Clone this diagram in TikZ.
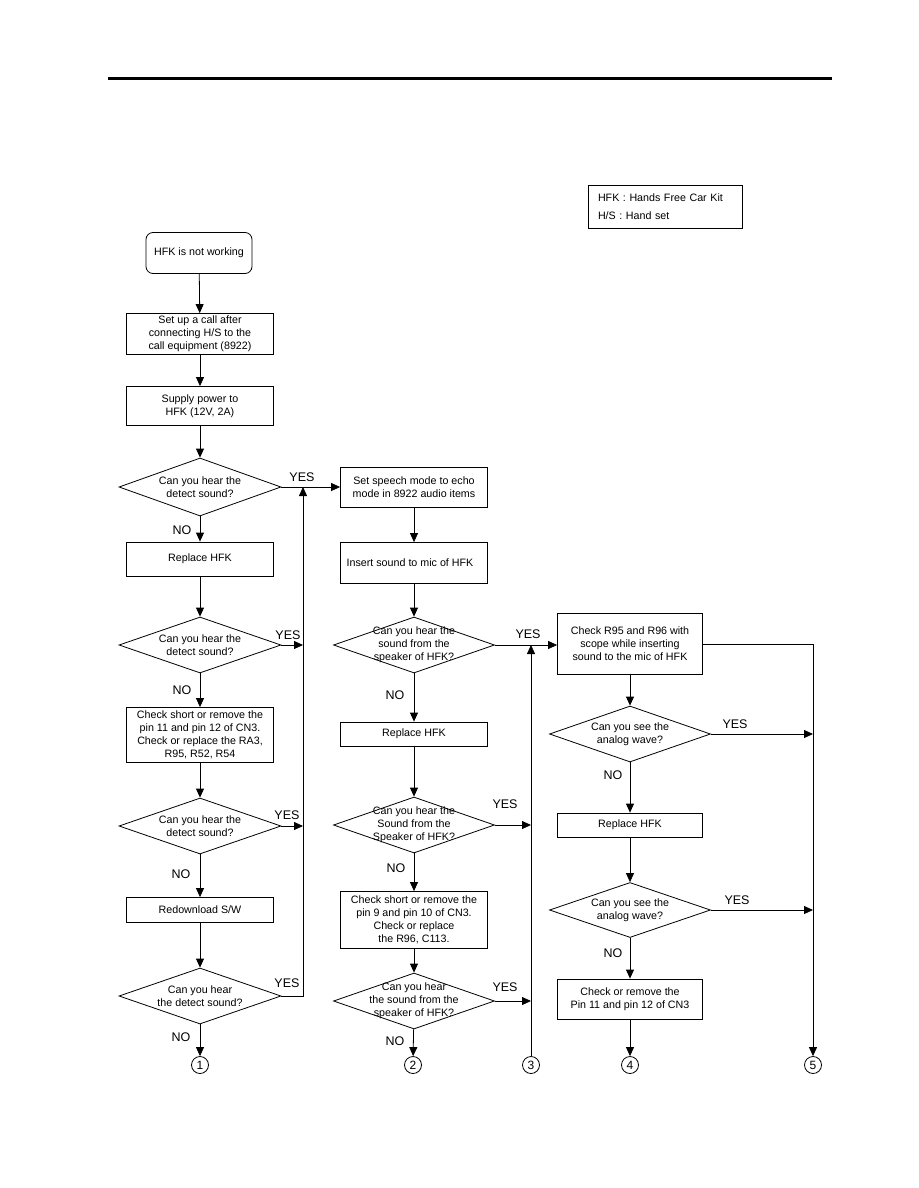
\documentclass[tikz,border=0pt]{standalone}
\usepackage{fontspec}
\setmainfont{Liberation Sans}
\usetikzlibrary{shapes.geometric,arrows.meta}
\begin{document}
\begin{tikzpicture}[x=1pt,y=-1pt,
  txt/.style={font=\fontsize{10.7}{13}\selectfont, align=center, inner sep=0pt},
  box/.style={draw, line width=0.8pt, minimum width=147pt, inner sep=2pt, align=center,
              font=\fontsize{10.7}{13}\selectfont},
  dia/.style={draw, diamond, line width=0.8pt, inner sep=0pt, minimum width=162pt, minimum height=56pt},
  lbl/.style={font=\fontsize{12.5}{14}\selectfont, inner sep=0pt},
  circ/.style={draw, circle, line width=0.8pt, minimum size=17pt, inner sep=0pt,
               font=\fontsize{12}{14}\selectfont},
  arr/.style={line width=0.8pt, -{Triangle[length=9pt,width=8pt]}},
  ln/.style={line width=0.8pt}
]
\useasboundingbox (0,0) rectangle (918,1188);
\draw[line width=3pt] (108,79) -- (832,79);

% legend
\node[draw, line width=0.8pt, text width=134pt, inner xsep=10pt, minimum height=43pt,
      align=left, font=\fontsize{10.7}{18}\selectfont] (legend) at (665,206.5)
      {HFK : Hands Free Car Kit\\H/S : Hand set};

% column 1
\node[box, rounded corners=7pt, minimum width=106pt, minimum height=41pt] (start) at (199,253) {HFK is not working};
\node[box, minimum height=41pt] (b2) at (200,334) {Set up a call after\\connecting H/S to the\\call equipment (8922)};
\node[box, minimum height=39pt] (b3) at (200,406) {Supply power to\\HFK (12V, 2A)};
\node[dia, minimum height=58pt] (d1) at (200,487) {};
\node[txt] (d1t) at (d1.center) {Can you hear the\\detect sound?};
\node[box, minimum height=34pt] (r1) at (200,559) {Replace HFK};
\node[dia] (d2) at (200,645) {};
\node[txt] (d2t) at (d2.center) {Can you hear the\\detect sound?};
\node[box, minimum height=55pt] (c1) at (200,735) {Check short or remove the\\pin 11 and pin 12 of CN3.\\Check or replace the RA3,\\R95, R52, R54};
\node[dia] (d3) at (200,826) {};
\node[txt] (d3t) at (d3.center) {Can you hear the\\detect sound?};
\node[box, minimum height=25pt] (rd) at (200,910) {Redownload S/W};
\node[dia] (d4) at (200,996) {};
\node[txt] (d4t) at (d4.center) {Can you hear\\the detect sound?};
\node[circ] (n1) at (200,1065) {1};

\coordinate (v1top) at (303,487);
\coordinate (v1bot) at (303,996);
\coordinate (v1a) at (303,645);
\coordinate (v1b) at (303,826);

\draw[arr] (start) -- (b2);
\draw[arr] (b2) -- (b3);
\draw[arr] (b3) -- (d1);
\draw[arr] (d1) -- (r1);
\draw[arr] (r1) -- (d2);
\draw[arr] (d2) -- (c1);
\draw[arr] (c1) -- (d3);
\draw[arr] (d3) -- (rd);
\draw[arr] (rd) -- (d4);
\draw[arr] (d4) -- (n1);
\draw[arr] (d4.east) -- (v1bot) -- (v1top);
\draw[arr] (d2.east) -- (v1a);
\draw[arr] (d3.east) -- (v1b);

\node[lbl] (y1) at (302,477) {YES};
\node[lbl] (y2) at (288,635) {YES};
\node[lbl] (y3) at (287,815) {YES};
\node[lbl] (y4) at (287,983) {YES};
\node[lbl] (no1) at (182,530) {NO};
\node[lbl] (no2) at (182,690) {NO};
\node[lbl] (no3) at (181,874) {NO};
\node[lbl] (no4) at (181,1037) {NO};

% column 2
\node[box, minimum height=40pt] (sp) at (414,487) {Set speech mode to echo\\mode in 8922 audio items};
\node[box, minimum height=41pt] (ins) at (414,563) {\hspace*{-8pt}Insert sound to mic of HFK};
\node[dia, minimum width=161pt] (e1) at (414,645) {};
\node[txt] (e1t) at (e1.center) {Can you hear the\\sound from the\\speaker of HFK?};
\node[box, minimum height=24pt] (r2) at (414,734) {Replace HFK};
\node[dia, minimum width=161pt] (e2) at (414,825) {};
\node[txt] (e2t) at (e2.center) {Can you hear the\\Sound from the\\Speaker of HFK?};
\node[box, minimum height=57pt] (ck2) at (414,920) {Check short or remove the\\pin 9 and pin 10 of CN3.\\Check or replace\\the R96, C113.};
\node[dia, minimum width=161pt] (e3) at (414,1001) {};
\node[txt] (e3t) at (e3.center) {Can you hear\\the sound from the\\speaker of HFK?};
\node[circ] (n2) at (413,1065) {2};
\node[circ] (n3) at (531,1065) {3};

\coordinate (v3top) at (531,645);
\coordinate (v3a) at (531,825);
\coordinate (v3b) at (531,1001);

\draw[arr] (d1.east) -- (sp.west);
\draw[arr] (sp) -- (ins);
\draw[arr] (ins) -- (e1);
\draw[arr] (e1) -- (r2);
\draw[arr] (r2) -- (e2);
\draw[arr] (e2) -- (ck2);
\draw[arr] (ck2) -- (e3);
\draw[arr] (e3) -- (n2);
\draw[arr] (n3.north) -- (v3top);
\draw[arr] (e2.east) -- (v3a);
\draw[arr] (e3.east) -- (v3b);

\node[lbl] (y5) at (528,634) {YES};
\node[lbl] (y6) at (505,804) {YES};
\node[lbl] (y7) at (505,987) {YES};
\node[lbl] (no5) at (395,695) {NO};
\node[lbl] (no6) at (396,868) {NO};
\node[lbl] (no7) at (395,1041) {NO};

% column 3
\node[box, minimum width=145pt, minimum height=61pt] (ck) at (630,644) {Check R95 and R96 with\\scope while inserting\\sound to the mic of HFK};
\node[dia, minimum width=161pt] (f1) at (630,734) {};
\node[txt] (f1t) at (f1.center) {Can you see the\\analog wave?};
\node[box, minimum width=145pt, minimum height=24pt] (r3) at (630,825) {Replace HFK};
\node[dia, minimum width=161pt, minimum height=55pt] (f2) at (630,910) {};
\node[txt] (f2t) at (f2.center) {Can you see the\\analog wave?};
\node[box, minimum width=145pt, minimum height=40pt] (ck3) at (630,999) {Check or remove the\\Pin 11 and pin 12 of CN3};
\node[circ] (n4) at (630,1065) {4};
\node[circ] (n5) at (813,1065) {5};

\coordinate (v5top) at (813,644);
\coordinate (v5a) at (813,734);
\coordinate (v5b) at (813,910);

\draw[arr] (e1.east) -- (e1.east -| ck.west);
\draw[arr] (ck.east) -- (v5top) -- (n5.north);
\draw[arr] (ck) -- (f1);
\draw[arr] (f1) -- (r3);
\draw[arr] (r3) -- (f2);
\draw[arr] (f2) -- (ck3);
\draw[arr] (ck3) -- (n4);
\draw[arr] (f1.east) -- (v5a);
\draw[arr] (f2.east) -- (v5b);

\node[lbl] (y8) at (735,724) {YES};
\node[lbl] (y9) at (737,900) {YES};
\node[lbl] (no8) at (613,775) {NO};
\node[lbl] (no9) at (613,953) {NO};
\end{tikzpicture}
\end{document}
